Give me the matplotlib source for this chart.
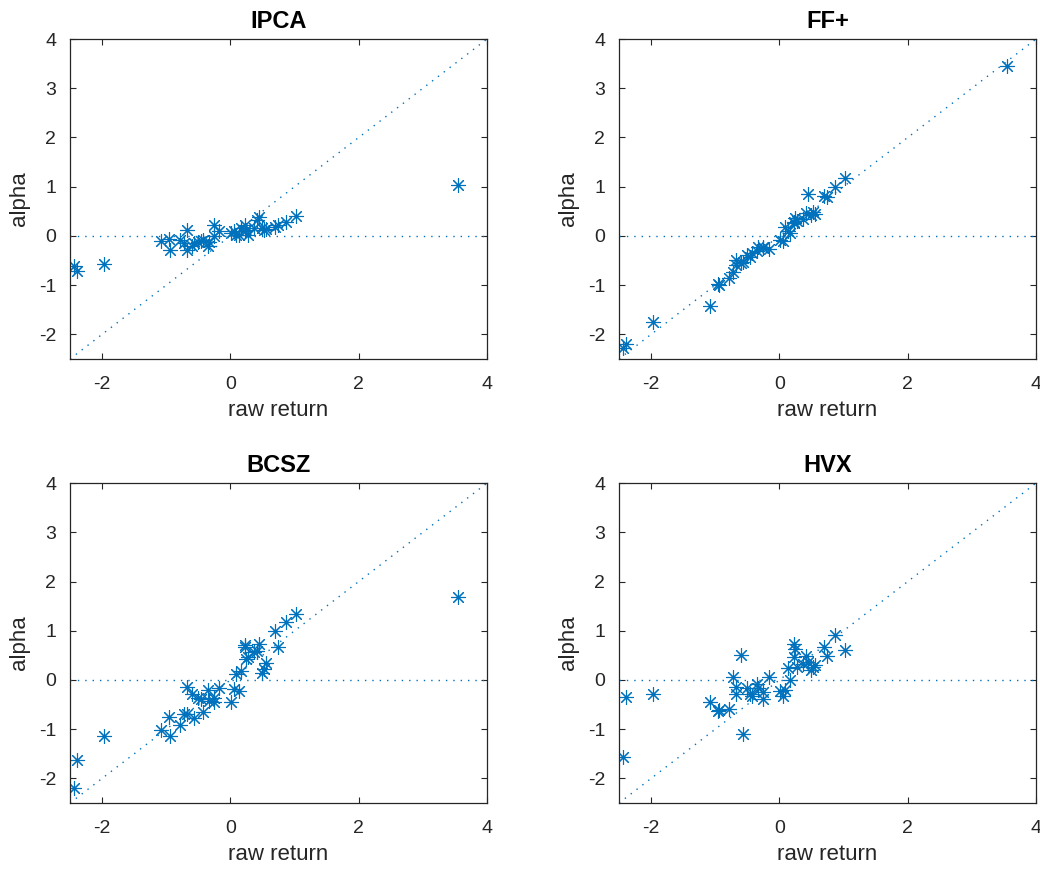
import numpy as np
import matplotlib.pyplot as plt

plt.rcParams['font.family'] = ['Liberation Sans', 'DejaVu Sans']
plt.rcParams['axes.unicode_minus'] = False

# raw return (same for every panel)
raw = [-2.44, -2.39, -1.97, -1.08, -0.95, -0.94, -0.78, -0.73, -0.68, -0.67,
       -0.60, -0.56, -0.51, -0.46, -0.42, -0.35, -0.33, -0.26, -0.25, -0.17,
       0.01, 0.05, 0.08, 0.14, 0.16, 0.22, 0.22, 0.25, 0.28, 0.375,
       0.42, 0.44, 0.50, 0.53, 0.56, 0.69, 0.74, 0.86, 1.03, 3.55]

# alphas per model
ipca = [-0.61, -0.71, -0.58, -0.10, -0.07, -0.29, -0.08, -0.15, -0.29, 0.12,
        -0.20, -0.15, -0.13, -0.10, -0.08, -0.20, -0.12, 0.22, 0.00, 0.11,
        0.05, 0.09, 0.02, 0.02, 0.16, 0.22, 0.09, 0.12, 0.02, 0.16,
        0.33, 0.39, 0.16, 0.12, 0.14, 0.19, 0.22, 0.29, 0.41, 1.03]
ffplus = [-2.28, -2.20, -1.75, -1.42, -0.97, -0.99, -0.86, -0.73, -0.59, -0.49,
          -0.55, -0.52, -0.39, -0.42, -0.35, -0.30, -0.22, -0.25, -0.22, -0.27,
          -0.08, -0.10, 0.19, 0.09, 0.05, 0.29, 0.26, 0.36, 0.30, 0.35,
          0.46, 0.86, 0.43, 0.48, 0.45, 0.82, 0.79, 1.00, 1.18, 3.45]
bcsz = [-2.20, -1.62, -1.14, -1.01, -0.76, -1.14, -0.92, -0.69, -0.70, -0.14,
        -0.29, -0.77, -0.37, -0.39, -0.65, -0.21, -0.43, -0.36, -0.44, -0.17,
        -0.44, -0.18, 0.13, -0.22, 0.18, 0.71, 0.66, 0.42, 0.47, 0.56,
        0.58, 0.73, 0.15, 0.22, 0.35, 0.99, 0.67, 1.17, 1.35, 1.68]
hvx = [-1.57, -0.34, -0.29, -0.44, -0.63, -0.61, -0.58, 0.07, -0.29, -0.14,
       0.51, -1.10, -0.16, -0.29, -0.32, -0.09, -0.17, -0.39, -0.24, 0.07,
       -0.22, -0.33, -0.20, 0.25, 0.00, 0.46, 0.73, 0.62, 0.26, 0.32,
       0.49, 0.37, 0.20, 0.26, 0.30, 0.66, 0.49, 0.91, 0.61, np.nan]

titles = ['IPCA', 'FF+', 'BCSZ', 'HVX']
alphas = [ipca, ffplus, bcsz, hvx]

BLUE = '#0072BD'
GREY = '#262626'
lims = [-2.5, 4]

fig = plt.figure(figsize=(10.4, 8.69), dpi=100)
pos = [[0.0673, 0.5869, 0.401, 0.3682],
       [0.5952, 0.5869, 0.401, 0.3682],
       [0.0673, 0.0759, 0.401, 0.3682],
       [0.5952, 0.0759, 0.401, 0.3682]]

for k in range(4):
    ax = fig.add_axes(pos[k])
    ax.plot(lims, lims, color=BLUE, lw=1.0, ls=(0, (1, 4.3)))
    ax.plot(lims, [0, 0], color=BLUE, lw=1.0, ls=(0, (1, 4.3)))
    ax.plot(raw, alphas[k], ls='none', marker=(8, 2, 0), ms=10.5, mew=0.8,
            color=BLUE)
    ax.set_xlim(lims)
    ax.set_ylim(lims)
    ax.set_xticks([-2, 0, 2, 4])
    ax.set_yticks([-2, -1, 0, 1, 2, 3, 4])
    ax.tick_params(direction='in', top=True, right=True, length=4,
                   width=0.8, colors=GREY, labelsize=14)
    ax.tick_params(axis='x', pad=12)
    ax.tick_params(axis='y', pad=10)
    for s in ax.spines.values():
        s.set_color(GREY)
        s.set_linewidth(0.9)
    ax.set_title(titles[k], fontsize=17, fontweight='bold', pad=8)
    ax.set_xlabel('raw return', fontsize=16, color=GREY, labelpad=5)
    ax.set_ylabel('alpha', fontsize=16, color=GREY, labelpad=6)

plt.savefig('out.png', dpi=100)
